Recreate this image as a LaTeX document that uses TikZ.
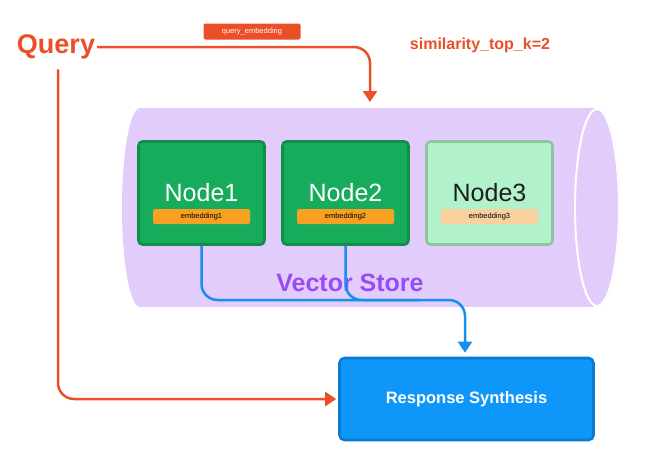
\documentclass[tikz,border=0pt]{standalone}
\usepackage{fontspec}
\setmainfont{Liberation Sans}
\usepackage{tikz}
\usetikzlibrary{arrows.meta}
\definecolor{qred}{HTML}{EB4F27}
\definecolor{vspurple}{HTML}{E1CCFB}
\definecolor{vstext}{HTML}{9A4CF4}
\definecolor{ngreen}{HTML}{16AC5B}
\definecolor{ndark}{HTML}{128D4A}
\definecolor{nlight}{HTML}{B1F2CA}
\definecolor{nlightb}{HTML}{8CC5A0}
\definecolor{nlighttext}{HTML}{1E1E1E}
\definecolor{eorange}{HTML}{F7A024}
\definecolor{epeach}{HTML}{F9D19F}
\definecolor{bline}{HTML}{1490F0}
\definecolor{rsfill}{HTML}{0E96F8}
\definecolor{rsdraw}{HTML}{0B7BD2}

\begin{document}
\begin{tikzpicture}[x=1pt,y=-1pt,
 tip/.style={-{Triangle[length=11pt,width=14pt]}},
 qarrow/.style={qred,line width=2.5pt,rounded corners=16pt,tip},
 barrow/.style={bline,line width=2.5pt,rounded corners=16pt},
 nbox/.style n args={2}{draw=#2,fill=#1,line width=2.6pt,rounded corners=4pt,minimum width=126pt,minimum height=103pt},
 emb/.style={fill=#1,rounded corners=1.5pt,minimum width=97pt,minimum height=15pt,inner sep=0pt,font=\fontsize{7.5}{8}\selectfont}]
\useasboundingbox (0,0) rectangle (654,464);
% vector store
\fill[vspurple] (140,207.5) ellipse [x radius=18, y radius=99.5];
\fill[vspurple] (140,108) rectangle (597,307);
\fill[vspurple] (597,207.5) ellipse [x radius=23, y radius=99.5];
\draw[white,line width=2pt] (597,207.5) ellipse [x radius=22, y radius=98.5];
\node[font=\fontsize{25}{28}\selectfont\bfseries,text=vstext] (vs) at (350,283) {Vector Store};
\foreach \i/\x/\f/\b/\t/\e in %
{1/201.5/ngreen/ndark/white/eorange,2/345.5/ngreen/ndark/white/eorange,3/489.5/nlight/nlightb/nlighttext/epeach} {
   \node[nbox={\f}{\b}] (n\i) at (\x,193) {};
   \node[font=\fontsize{25}{28}\selectfont,text=\t,anchor=base,inner sep=0pt] at (\x,201) {Node\i};
   \node[emb=\e] (e\i) at (\x,216.5) {embedding\i};
}
% query
\node[font=\fontsize{27}{30}\selectfont\bfseries,text=qred,inner sep=2pt] (q) at (56,47) {Query};
\node[font=\fontsize{16}{18}\selectfont\bfseries,text=qred] (topk) at (480,45) {similarity\_top\_k=2};
\node[fill=qred,text=white,rounded corners=2pt,minimum width=97pt,minimum height=16pt,inner sep=0pt,font=\fontsize{7.5}{8}\selectfont] (qe) at (252,31.5) {query\_embedding};
\coordinate (vsin) at (370,102);
\draw[qarrow] (q.east) -| (vsin);
% response
\node[draw=rsdraw,fill=rsfill,line width=2.6pt,rounded corners=5pt,minimum width=254pt,minimum height=82pt,text=white,font=\fontsize{16.5}{18}\selectfont\bfseries] (rs) at (466.5,399) {Response Synthesis};
\draw[qarrow,shorten <=8pt,shorten >=2pt] ([xshift=2pt]q.south) |- (rs.west);
\coordinate (mid) at (465,300);
\coordinate (join) at (420,300);
\draw[barrow] (n2.south) |- (join);
\draw[barrow,tip,shorten >=4pt] (n1.south) |- (mid) -- (mid |- rs.north);
\end{tikzpicture}
\end{document}
